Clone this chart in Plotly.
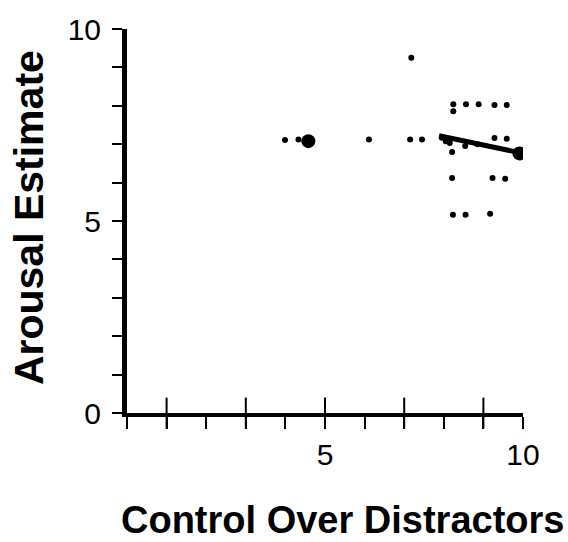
import plotly.graph_objects as go

# Individual responses: control over distractors vs. arousal estimate
control = [3.99, 4.33, 6.11, 7.18, 7.15, 7.45,
           8.24, 8.56, 8.88, 9.28, 9.59, 8.24,
           9.28, 9.59, 7.95, 8.05, 8.15, 8.21, 8.54, 8.85,
           8.21, 9.23, 9.55, 8.23, 8.55, 9.17]
arousal = [7.11, 7.12, 7.12, 9.25, 7.12, 7.12,
           8.04, 8.04, 8.04, 8.02, 8.02, 7.86,
           7.16, 7.14, 7.17, 7.08, 7.03, 6.80, 6.95, 7.00,
           6.12, 6.12, 6.10, 5.16, 5.16, 5.19]

# Group means
mean_control = [4.58, 9.91]
mean_arousal = [7.08, 6.76]

# Fitted trend for the high-control group
trend_x = [7.88, 9.91]
trend_y = [7.22, 6.78]

x_ticks = list(range(0, 11))
x_labels = ["5" if v == 5 else "10" if v == 10 else "" for v in x_ticks]
x_cross_ticks = [1, 3, 5, 7, 9]
y_ticks = list(range(0, 11))
y_labels = [str(v) if v in (0, 5, 10) else "" for v in y_ticks]

FONT = "Liberation Sans, Arial, Helvetica, sans-serif"

fig = go.Figure()
fig.add_trace(go.Scatter(x=trend_x, y=trend_y, mode="lines",
                         line=dict(color="black", width=5), hoverinfo="skip"))
fig.add_trace(go.Scatter(x=control, y=arousal, mode="markers",
                         marker=dict(color="black", size=6)))
fig.add_trace(go.Scatter(x=mean_control, y=mean_arousal, mode="markers",
                         marker=dict(color="black", size=14)))

# odd x ticks cross the axis line: vertical bar glyphs centred on the baseline
fig.add_trace(go.Scatter(x=x_cross_ticks, y=[y_ticks[0]] * len(x_cross_ticks),
                         mode="markers", cliponaxis=False, hoverinfo="skip",
                         marker=dict(symbol="line-ns-open", size=22, color="black",
                                     line=dict(color="black", width=2))))

fig.update_layout(
    width=568, height=542,
    margin=dict(l=127, r=45, t=25, b=129),
    paper_bgcolor="white", plot_bgcolor="white",
    showlegend=False,
    font=dict(family=FONT, color="black"),
    xaxis=dict(range=[0, 10], tickmode="array", tickvals=x_ticks, ticktext=x_labels,
               ticks="outside", ticklen=12, tickwidth=2, tickcolor="black",
               showline=True, linewidth=4, linecolor="black",
               showgrid=False, zeroline=False,
               tickfont=dict(size=30, family=FONT), ticklabelstandoff=0),
    yaxis=dict(range=[0, 10], tickmode="array", tickvals=y_ticks, ticktext=y_labels,
               ticks="outside", ticklen=10, tickwidth=2, tickcolor="black",
               showline=True, linewidth=5, linecolor="black",
               showgrid=False, zeroline=False,
               tickfont=dict(size=30, family=FONT), ticklabelstandoff=5),
    annotations=[
        dict(text="<b>Control Over Distractors</b>", xref="paper", yref="paper",
             x=0.545, y=-0.278, xanchor="center", yanchor="middle",
             showarrow=False, font=dict(size=38, family=FONT, color="black")),
        dict(text="<b>Arousal Estimate</b>", xref="paper", yref="paper",
             x=-0.247, y=0.508, xanchor="center", yanchor="middle", textangle=-90,
             showarrow=False, font=dict(size=41, family=FONT, color="black")),
    ],
)

fig.write_html("out.html")
